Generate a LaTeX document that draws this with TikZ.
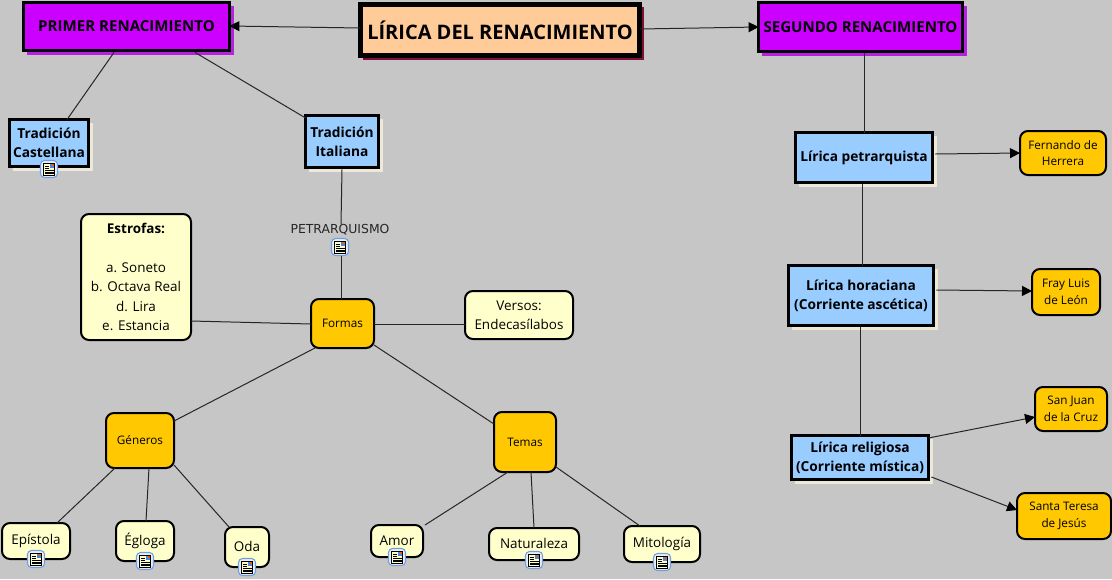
\documentclass[tikz,border=0pt]{standalone}
\usepackage{fontspec}
\setmainfont{Open Sans}
\newfontfamily\labelfont{DejaVu Sans}
\usetikzlibrary{calc,arrows.meta}
\definecolor{bgc}{HTML}{C6C6C6}
\definecolor{purp}{HTML}{CC00FF}
\definecolor{purpd}{HTML}{B81FE0}
\definecolor{peach}{HTML}{FFCC99}
\definecolor{crim}{HTML}{80103A}
\definecolor{sky}{HTML}{99CCFF}
\definecolor{gold}{HTML}{FFC800}
\definecolor{creamy}{HTML}{FFFFCC}
\definecolor{shd}{HTML}{ECE9D8}
\definecolor{icb}{HTML}{4F86D6}
\tikzset{
  px/.style={x=0.75pt,y=-0.75pt},
  boxbase/.style={draw=black,inner sep=0pt,outer sep=0pt,align=center,text=black},
  thick box/.style={boxbase,line width=2.4pt},
  purple box/.style={thick box,fill=purp,font=\fontsize{11.3}{13}\selectfont\bfseries},
  title box/.style={boxbase,line width=3.6pt,fill=peach,font=\fontsize{15}{18}\selectfont\bfseries},
  blue box/.style={thick box,fill=sky,font=\fontsize{10.3}{14.5}\selectfont\bfseries},
  gold box/.style={boxbase,line width=1.5pt,fill=gold,rounded corners=6pt,font=\fontsize{8.8}{12.5}\selectfont},
  cream box/.style={boxbase,line width=1.5pt,fill=creamy,rounded corners=6pt,font=\fontsize{10.1}{14.5}\selectfont},
  ln/.style={line width=0.75pt,draw=black!85},
  arr/.style={ln,-{Triangle[length=7.5pt,width=7.5pt,color=black]}},
}
% name, x1, y1, x2, y2 (outer pixel extents), style, text
\newcommand{\bx}[7]{%
  \pgfmathsetmacro{\boxw}{(#4-#2)*0.75}\pgfmathsetmacro{\boxh}{(#5-#3)*0.75}%
  \node[#6,minimum width=\boxw pt-\pgflinewidth,minimum height=\boxh pt-\pgflinewidth] (#1) at ({(#2+#4)/2},{(#3+#5)/2}) {#7};}
\newcommand{\shadowbx}[5]{\fill[#5] (#1+5,#2+5) rectangle (#3+3,#4+3);}
\newcommand{\lift}[1]{\raisebox{1.3pt}{#1}}
\newcommand{\docicon}[2]{%
  \begin{scope}[shift={(#1,#2)}]
    \draw[icb!80,fill=icb!12,line width=0.8pt,rounded corners=3pt] (-8.5,-8.5) rectangle (8.5,8.5);
    \fill[creamy,draw=black,line width=0.5pt] (-5.5,-6) rectangle (5.5,6);
    \fill[icb] (0.5,-5.5) rectangle (5,-1);
    \fill[orange!70!red] (2.5,-5) rectangle (4.5,-3);
    \foreach \yy in {-3,-1,1,3,4.8}{\draw[black,line width=0.5pt] (-4,\yy) -- ({\yy>0 ? 4.5 : 0},\yy);}
  \end{scope}}
\begin{document}
\begin{tikzpicture}[px]
\useasboundingbox (0,0) rectangle (1112,579);
\fill[bgc] (0,0) rectangle (1112,579);
% shadows
\shadowbx{22}{1}{231}{52}{purpd}
\shadowbx{757}{1}{964}{53}{purpd}
\fill[crim] (363,7) rectangle (644,60);
\shadowbx{8}{118}{90}{168}{shd}
\shadowbx{304}{114}{380}{169}{shd}
\shadowbx{794}{131}{934}{184}{shd}
\shadowbx{787}{264}{935}{327}{shd}
\shadowbx{790}{434}{930}{481}{shd}
% nodes
\bx{primer}{22}{1}{231}{52}{purple box}{PRIMER RENACIMIENTO}
\bx{titulo}{358}{2}{642}{58}{title box}{LÍRICA DEL RENACIMIENTO}
\bx{segundo}{757}{1}{964}{53}{purple box}{SEGUNDO RENACIMIENTO}
\bx{cast}{8}{118}{90}{168}{blue box}{Tradición\\Castellana}
\bx{ital}{304}{114}{380}{169}{blue box}{Tradición\\Italiana}
\bx{petr}{794}{131}{934}{184}{blue box}{Lírica petrarquista}
\bx{hora}{787}{264}{935}{327}{blue box}{Lírica horaciana\\(Corriente ascética)}
\bx{reli}{790}{434}{930}{481}{blue box}{Lírica religiosa\\(Corriente mística)}
\bx{fern}{1019}{130}{1107}{176}{gold box}{Fernando de\\Herrera}
\bx{fray}{1031}{268}{1101}{316}{gold box}{Fray Luis\\de León}
\bx{juan}{1034}{386}{1108}{432}{gold box}{San Juan\\de la Cruz}
\bx{tere}{1016}{492}{1112}{540}{gold box}{Santa Teresa\\de Jesús}
\bx{estr}{80}{213}{192}{341}{cream box}{\textbf{Estrofas:}\\[14.5pt]a. Soneto\\b. Octava Real\\d. Lira\\e. Estancia}
\bx{vers}{464}{290}{574}{340}{cream box}{Versos:\\Endecasílabos}
\bx{form}{310}{298}{375}{349}{gold box}{Formas}
\bx{gene}{105}{412}{175}{469}{gold box}{Géneros}
\bx{tema}{493}{411}{557}{473}{gold box}{Temas}
\bx{epis}{1}{522}{71}{560}{cream box}{\lift{Epístola}}
\bx{eglo}{115}{520}{175}{562}{cream box}{Égloga}
\bx{oda}{224}{526}{270}{568}{cream box}{\lift{Oda}}
\bx{amor}{370}{524}{424}{558}{cream box}{Amor}
\bx{natu}{488}{527}{580}{561}{cream box}{\lift{Naturaleza}}
\bx{mito}{623}{525}{701}{563}{cream box}{\lift{Mitología}}
\node[font=\labelfont\fontsize{9.3}{11}\selectfont,inner sep=0pt,text=black!85] (petq) at (340,230) {PETRARQUISMO};
\coordinate (petqicon) at (340,247);
% connectors
\draw[arr] (titulo.west |- 0,28) -- (primer.east |- 0,26);
\draw[arr] (titulo.east |- 0,29) -- (segundo.west |- 0,27);
\draw[ln] (primer.south -| 114,0) ++(0,2) -- (cast.north -| 67,0);
\draw[ln] (primer.south -| 195,0) ++(0,2) -- (ital.west |- 0,118);
\draw[ln] (ital.south -| 342,0) ++(0,2) -- (petq.north -| 341,0);
\draw[ln] (petqicon -| 341,0) -- (form.north -| 341,0);
\draw[ln] (estr.east |- 0,321) -- (form.west |- 0,324);
\draw[ln] (form.east |- 0,324) -- (vers.west |- 0,324);
\draw[ln] (form.west |- 0,348) ++(4,0) -- (gene.east |- 0,421);
\draw[ln] (form.east |- 0,345) -- (tema.west |- 0,424);
\draw[ln] (gene.south -| 115,0) -- (epis.north -| 57,0);
\draw[ln] (gene.south -| 149,0) -- (eglo.north -| 146,0);
\draw[ln] (gene.east |- 0,465) -- (oda.north -| 229,0);
\draw[ln] (tema.south -| 508,0) -- (amor.north -| 425,0);
\draw[ln] (tema.south -| 531,0) -- (natu.north -| 534,0);
\draw[ln] (tema.east |- 0,467) -- (mito.north -| 640,0);
\draw[ln] (segundo.south -| 864,0) ++(0,2) -- (petr.north -| 864,0);
\draw[ln] (petr.south -| 862,0) ++(0,2) -- (hora.north -| 862,0);
\draw[ln] (hora.south -| 860,0) ++(0,2) -- (reli.north -| 860,0);
\draw[arr] (petr.east |- 0,154) ++(3,0) -- (fern.west |- 0,153);
\draw[arr] (hora.east |- 0,290) ++(3,0) -- (fray.west |- 0,291);
\draw[arr] (reli.east |- 0,438) -- (juan.west |- 0,417);
\draw[arr] (reli.east |- 0,477) ++(3,0) -- (tere.west |- 0,510);
% icons
\docicon{49}{169}
\docicon{340}{247}
\docicon{36}{559}
\docicon{145}{561}
\docicon{247}{567}
\docicon{397}{557}
\docicon{534}{560}
\docicon{662}{562}
\end{tikzpicture}
\end{document}
